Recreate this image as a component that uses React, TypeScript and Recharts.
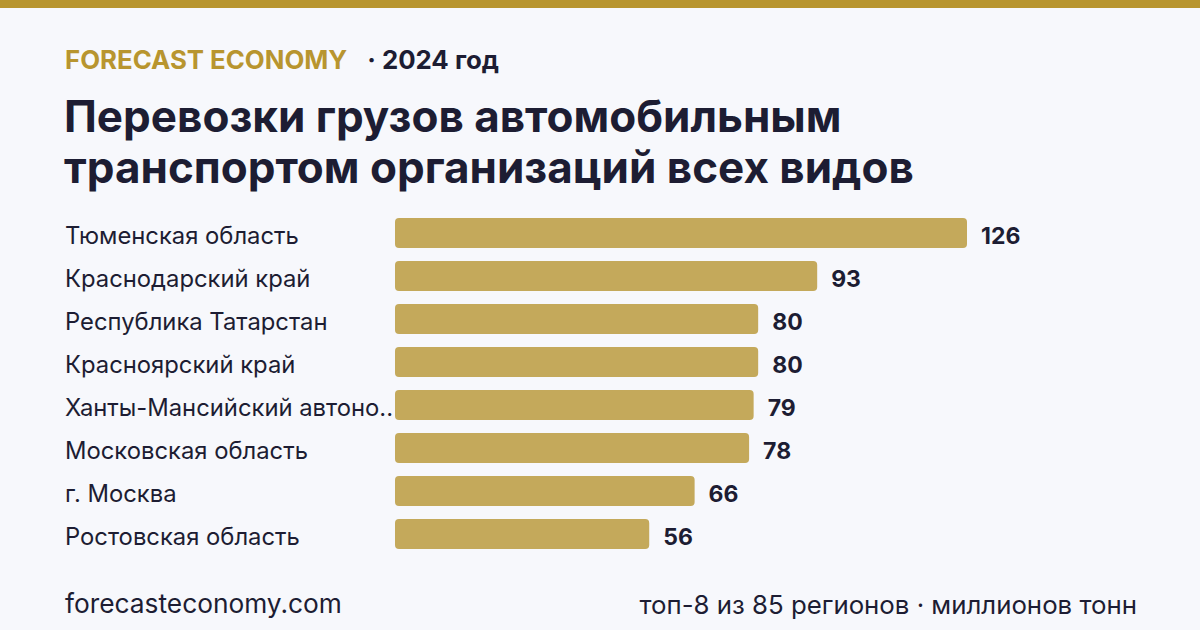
import { Bar, BarChart, LabelList, XAxis, YAxis } from "recharts";

const regions = [
  "Тюменская область",
  "Краснодарский край",
  "Республика Татарстан",
  "Красноярский край",
  "Ханты-Мансийский автономный округ — Югра",
  "Московская область",
  "г. Москва",
  "Ростовская область",
];
const values = [126, 93, 80, 80, 79, 78, 66, 56];

const GOLD = "#b8952f";
const BAR = "#c4a95b";
const INK = "#1d1d33";
const BG = "#f7f8fc";
const FONT = "Inter, 'Noto Sans', sans-serif";

const data = regions.map((name, i) => ({ name, value: values[i] }));

function shorten(s: string) {
  return s.length > 24 ? s.slice(0, 23) + ".." : s;
}

function RegionTick(props: any) {
  const { y, payload } = props;
  return (
    <text x={65} y={y} dy={11} fontSize={23.8} fill={INK} fontFamily={FONT} textAnchor="start">
      {shorten(payload.value)}
    </text>
  );
}

function ValueLabel(props: any) {
  const { x, y, width, height, value } = props;
  return (
    <text x={x + width + 14} y={y + height / 2} dy={11} fontSize={23} fontWeight={700} fill={INK} fontFamily={FONT}>
      {value}
    </text>
  );
}

export default function App() {
  return (
    <div style={{ position: "fixed", top: 0, left: 0, width: 1200, height: 630, background: BG, fontFamily: FONT, overflow: "hidden" }}>
      <div style={{ position: "absolute", top: 0, left: 0, width: 1200, height: 8, background: GOLD }} />
      <div style={{ position: "absolute", top: 44, left: 65, fontSize: 25.8, fontWeight: 700, whiteSpace: "nowrap" }}>
        <span style={{ color: GOLD }}>FORECAST ECONOMY</span>
        <span style={{ color: INK, marginLeft: 20 }}>· 2024 год</span>
      </div>
      <div style={{ position: "absolute", top: 91, left: 64, fontSize: 44, fontWeight: 700, color: INK, lineHeight: "51px", whiteSpace: "nowrap" }}>
        Перевозки грузов автомобильным
        <br />
        транспортом организаций всех видов
      </div>

      <div style={{ position: "absolute", top: 211, left: 0 }}>
        <BarChart width={1200} height={344} data={data} layout="vertical" margin={{ top: 0, right: 233, bottom: 0, left: 0 }}>
          <XAxis type="number" domain={[0, 126]} hide />
          <YAxis type="category" dataKey="name" width={395} axisLine={false} tickLine={false} tick={<RegionTick />} interval={0} />
          <Bar dataKey="value" fill={BAR} radius={4} barSize={30} isAnimationActive={false}>
            <LabelList dataKey="value" content={<ValueLabel />} />
          </Bar>
        </BarChart>
      </div>

      <div style={{ position: "absolute", top: 588, left: 65, fontSize: 26.3, color: INK }}>forecasteconomy.com</div>
      <div style={{ position: "absolute", top: 589, right: 63, fontSize: 25.8, color: INK, whiteSpace: "nowrap" }}>топ-8 из 85 регионов · миллионов тонн</div>
    </div>
  );
}
